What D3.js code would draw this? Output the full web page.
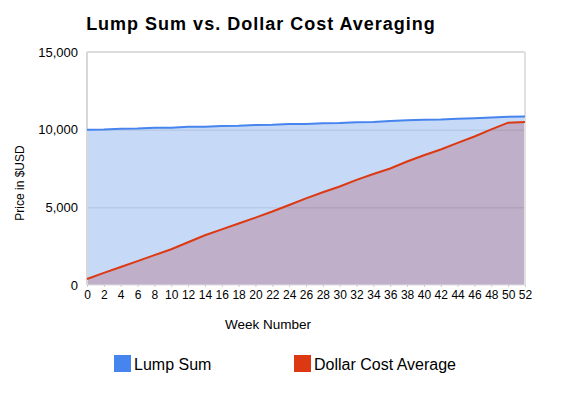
<!DOCTYPE html>
<html lang="en">
<head>
<meta charset="UTF-8">
<title>Lump Sum vs. Dollar Cost Averaging</title>
<script src="https://d3js.org/d3.v7.min.js"></script>
<style>
    body { margin: 0; background: #fff; }
    text { font-family: "Liberation Sans", Arial, sans-serif; fill: #000; }
    .xAxis path, .yAxis path, .yAxis line { stroke-width: 0; }
    .xAxis line { stroke: #ccc; }
    .grid line { stroke: rgba(0, 0, 0, 0.1); }
    .grid path { stroke-width: 0; }
</style>
</head>
<body>
<div id="chart"></div>
<script>
    // week numbers (every 2 weeks)
    const weeks = [0, 2, 4, 6, 8, 10, 12, 14, 16, 18, 20, 22, 24, 26, 28, 30, 32, 34, 36, 38, 40, 42, 44, 46, 48, 50, 52];
    const lumpSum = [10000, 10010, 10060, 10070, 10120, 10130, 10180, 10190, 10240, 10250, 10300, 10310, 10360, 10370,
        10420, 10430, 10470, 10500, 10560, 10600, 10640, 10660, 10710, 10740, 10780, 10830, 10850];
    const dollarCost = [390, 780, 1160, 1540, 1920, 2300, 2750, 3200, 3580, 3960, 4340, 4730, 5150, 5580,
        5970, 6340, 6770, 7150, 7500, 7950, 8350, 8720, 9150, 9560, 10020, 10450, 10500];
    const yTicks = [0, 5000, 10000, 15000];
    const seriesNames = ["Lump Sum", "Dollar Cost Average"];
    const colors = ["#4684ee", "#dc3912"];

    const width = 564, height = 396;
    const margin = { top: 52, right: 39, bottom: 111, left: 87 };
    const w = width - margin.left - margin.right,
        h = height - margin.top - margin.bottom;

    const svg = d3.select("#chart")
        .append("svg")
        .attr("width", width)
        .attr("height", height);

    const g = svg.append("g")
        .attr("transform", `translate(${margin.left}, ${margin.top})`);

    const x = d3.scaleLinear().domain([0, 52]).range([0, w]);
    const y = d3.scaleLinear().domain([0, 15000]).range([h, 0]);

    // areas
    const area = vals => d3.area()
        .x((d, i) => x(weeks[i]))
        .y0(y(0))
        .y1(d => y(d))(vals);
    const line = vals => d3.line()
        .x((d, i) => x(weeks[i]))
        .y(d => y(d))(vals);

    g.append("path").attr("d", area(lumpSum)).attr("fill", "#c6d9f7");
    g.append("path").attr("d", area(dollarCost)).attr("fill", "#c0afc8");

    // gridlines on top of the fills
    g.append("g")
        .attr("class", "grid")
        .call(d3.axisLeft(y).tickValues(yTicks.slice(1)).tickSize(-w).tickFormat(""));

    // frame: top, left, right, bottom
    g.append("line").attr("x1", 0).attr("x2", w).attr("y1", 0).attr("y2", 0)
        .attr("stroke", "#ddd").attr("stroke-width", 2);
    g.append("line").attr("x1", 0).attr("x2", 0).attr("y1", 0).attr("y2", h)
        .attr("stroke", "#d8d8d8").attr("stroke-width", 2);
    g.append("line").attr("x1", w).attr("x2", w).attr("y1", 0).attr("y2", h)
        .attr("stroke", "#e0e0e0").attr("stroke-width", 2);
    g.append("line").attr("x1", 0).attr("x2", w).attr("y1", h).attr("y2", h)
        .attr("stroke", "#ddd").attr("stroke-width", 1);

    // lines
    g.append("path").attr("d", line(lumpSum)).attr("fill", "none")
        .attr("stroke", colors[0]).attr("stroke-width", 2);
    g.append("path").attr("d", line(dollarCost)).attr("fill", "none")
        .attr("stroke", colors[1]).attr("stroke-width", 2);

    // x axis
    g.append("g")
        .attr("class", "xAxis")
        .attr("transform", `translate(0, ${h})`)
        .call(d3.axisBottom(x).tickValues(weeks).tickSize(2).tickPadding(3).tickFormat(d3.format("d")))
        .selectAll("text").style("font-size", "12px").attr("fill", "#000");

    // y axis
    g.append("g")
        .attr("class", "yAxis")
        .call(d3.axisLeft(y).tickValues(yTicks).tickSize(0).tickPadding(9).tickFormat(d3.format(",")))
        .selectAll("text").style("font-size", "13px").attr("fill", "#000");

    // titles
    svg.append("text")
        .attr("x", 261).attr("y", 30)
        .attr("text-anchor", "middle")
        .style("font-size", "18px").style("font-weight", "bold").style("letter-spacing", "1px")
        .text("Lump Sum vs. Dollar Cost Averaging");

    svg.append("text")
        .attr("x", 268).attr("y", 329)
        .attr("text-anchor", "middle")
        .style("font-size", "13.5px")
        .text("Week Number");

    svg.append("text")
        .attr("transform", "translate(24, 183) rotate(-90)")
        .attr("text-anchor", "middle")
        .style("font-size", "12px")
        .text("Price in $USD");

    // legend
    const legendX = [114, 294];
    const legend = svg.selectAll(".legend")
        .data(seriesNames).enter()
        .append("g")
        .attr("transform", (d, i) => `translate(${legendX[i]}, 355)`);
    legend.append("rect")
        .attr("width", 17).attr("height", 17)
        .attr("fill", (d, i) => colors[i]);
    legend.append("text")
        .attr("x", 20).attr("y", 15)
        .style("font-size", "16px")
        .text(d => d);
</script>
</body>
</html>
